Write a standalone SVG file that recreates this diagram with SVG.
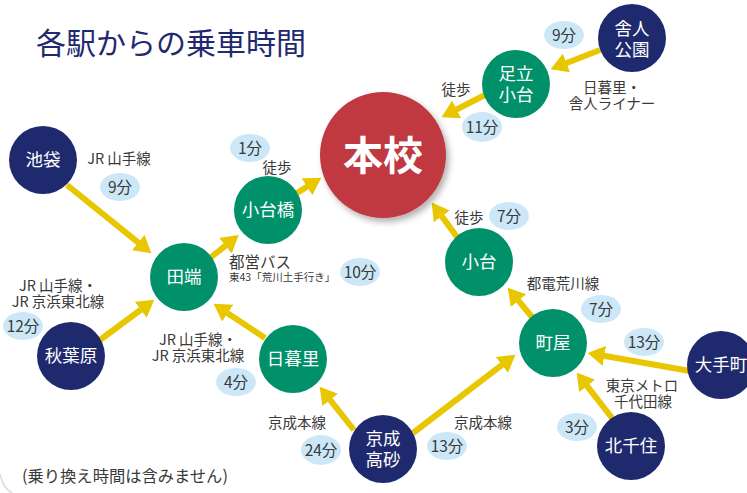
<svg xmlns="http://www.w3.org/2000/svg" width="747" height="493" viewBox="0 0 747 493">
<defs>
<style>
.ttl{font-family:"Noto Sans CJK JP","Noto Sans",sans-serif;font-size:30px;fill:#1f2a6e;}
.nt{font-family:"Noto Sans CJK JP","Noto Sans",sans-serif;font-size:17.5px;fill:#ffffff;text-anchor:middle;}
.lb{font-family:"Noto Sans CJK JP","Noto Sans",sans-serif;font-size:14.5px;fill:#3a3a3a;text-anchor:middle;}
.pt{font-family:"Noto Sans CJK JP","Noto Sans",sans-serif;font-size:15.5px;fill:#3a3a3a;text-anchor:middle;}
.pill{fill:#cce8f8;}
.navy{fill:#1f2a6e;}
.green{fill:#00916b;}
.conn line{stroke:#e8c600;stroke-width:6;marker-end:url(#ah);}
</style>
<marker id="ah" markerUnits="userSpaceOnUse" markerWidth="17" markerHeight="20" viewBox="0 0 17 20" refX="0.5" refY="10" orient="auto">
<path d="M0,0 L17,10 L0,20 z" fill="#e8c600"/>
</marker>
<filter id="sh" x="-20%" y="-20%" width="150%" height="150%">
<feDropShadow dx="3" dy="4" stdDeviation="3" flood-color="#000" flood-opacity="0.3"/>
</filter>
</defs>
<rect width="747" height="493" fill="#ffffff"/>
<path d="M0,474 Q3,488 12,493" fill="none" stroke="#dcdcdc" stroke-width="1.5"/>
<text class="ttl" x="36" y="54">各駅からの乗車時間</text>

<g id="connectors" class="conn">
<line x1="600" y1="50" x2="566" y2="63.2"/>
<line x1="485" y1="95" x2="456.2" y2="109.7"/>
<line x1="67" y1="185" x2="138.6" y2="242.9"/>
<line x1="100" y1="340" x2="141.1" y2="309.5"/>
<line x1="265" y1="338" x2="227.3" y2="312.9"/>
<line x1="210" y1="258" x2="225.8" y2="245.4"/>
<line x1="297" y1="193" x2="307.4" y2="186.5"/>
<line x1="354" y1="430" x2="329.9" y2="399.6"/>
<line x1="413" y1="433" x2="502.3" y2="364.7"/>
<line x1="457" y1="237" x2="441.5" y2="215.9"/>
<line x1="532" y1="317" x2="518.2" y2="300.3"/>
<line x1="690" y1="371" x2="603.8" y2="355.8"/>
<line x1="612" y1="418" x2="586.8" y2="385.6"/>
</g>

<g id="node-honkou">
<circle cx="383" cy="155" r="63" fill="#c0393f" filter="url(#sh)"/>
<text x="383" y="170" font-family="Noto Sans CJK JP,Noto Sans,sans-serif" font-size="40" font-weight="bold" fill="#ffffff" text-anchor="middle">本校</text>
</g>
<g id="node-toneri">
<circle class="navy" cx="632" cy="38" r="34"/>
<text class="nt" x="632" y="35">舎人<tspan x="632" dy="21">公園</tspan></text>
</g>
<g id="node-adachiodai">
<circle class="green" cx="516" cy="84" r="34"/>
<text class="nt" x="516" y="80">足立<tspan x="516" dy="21">小台</tspan></text>
</g>
<g id="node-ikebukuro">
<circle class="navy" cx="43" cy="160" r="34"/>
<text class="nt" x="43" y="166">池袋</text>
</g>
<g id="node-tabata">
<circle class="green" cx="184" cy="277" r="34"/>
<text class="nt" x="184" y="283">田端</text>
</g>
<g id="node-akihabara">
<circle class="navy" cx="71" cy="356" r="34"/>
<text class="nt" x="71" y="362">秋葉原</text>
</g>
<g id="node-odaibashi">
<circle class="green" cx="268" cy="210" r="34"/>
<text class="nt" x="268" y="216">小台橋</text>
</g>
<g id="node-nippori">
<circle class="green" cx="293" cy="359" r="34"/>
<text class="nt" x="293" y="365">日暮里</text>
</g>
<g id="node-keiseitakasago">
<circle class="navy" cx="383" cy="449" r="34"/>
<text class="nt" x="383" y="445">京成<tspan x="383" dy="21">高砂</tspan></text>
</g>
<g id="node-odai">
<circle class="green" cx="479" cy="262" r="34"/>
<text class="nt" x="479" y="268">小台</text>
</g>
<g id="node-machiya">
<circle class="green" cx="553" cy="343" r="34"/>
<text class="nt" x="553" y="349">町屋</text>
</g>
<g id="node-otemachi">
<circle class="navy" cx="721" cy="365" r="34"/>
<text class="nt" x="721" y="371">大手町</text>
</g>
<g id="node-kitasenju">
<circle class="navy" cx="631" cy="446" r="34"/>
<text class="nt" x="631" y="452">北千住</text>
</g>

<g id="labels">
<ellipse class="pill" cx="564" cy="35" rx="20" ry="14"/>
<text class="pt" x="564" y="40.5">9分</text>
<text class="lb" x="612" y="93">日暮里・<tspan x="612" dy="15.5">舎人ライナー</tspan></text>
<text class="lb" x="456" y="95">徒歩</text>
<ellipse class="pill" cx="482" cy="127" rx="20" ry="15"/>
<text class="pt" x="482" y="132.5">11分</text>

<text class="lb" x="119" y="164">JR 山手線</text>
<ellipse class="pill" cx="120" cy="187" rx="20" ry="14"/>
<text class="pt" x="120" y="192.5">9分</text>

<text class="lb" x="58" y="291">JR 山手線・<tspan x="58" dy="15.5">JR 京浜東北線</tspan></text>
<ellipse class="pill" cx="23" cy="326" rx="20" ry="14"/>
<text class="pt" x="23" y="331.5">12分</text>

<text class="lb" x="198" y="345">JR 山手線・<tspan x="198" dy="15.5">JR 京浜東北線</tspan></text>
<ellipse class="pill" cx="236" cy="382" rx="20" ry="14"/>
<text class="pt" x="236" y="387.5">4分</text>

<ellipse class="pill" cx="250" cy="148" rx="20" ry="14"/>
<text class="pt" x="250" y="153.5">1分</text>
<text class="lb" x="277" y="173">徒歩</text>

<text x="229" y="268" font-family="Noto Sans CJK JP,Noto Sans,sans-serif" font-size="15.5" fill="#3a3a3a">都営バス<tspan x="229" dy="12.5" font-size="10.5">東43「荒川土手行き」</tspan></text>
<ellipse class="pill" cx="360" cy="272" rx="20" ry="14"/>
<text class="pt" x="360" y="277.5">10分</text>

<text class="lb" x="297" y="428">京成本線</text>
<ellipse class="pill" cx="321" cy="450" rx="20" ry="15"/>
<text class="pt" x="321" y="455.5">24分</text>

<text class="lb" x="483" y="428">京成本線</text>
<ellipse class="pill" cx="447" cy="446" rx="20" ry="14"/>
<text class="pt" x="447" y="451.5">13分</text>

<text class="lb" x="469" y="223">徒歩</text>
<ellipse class="pill" cx="509" cy="216" rx="20" ry="14"/>
<text class="pt" x="509" y="221.5">7分</text>

<text class="lb" x="563" y="289">都電荒川線</text>
<ellipse class="pill" cx="601" cy="309" rx="20" ry="14"/>
<text class="pt" x="601" y="314.5">7分</text>

<ellipse class="pill" cx="644" cy="342" rx="20" ry="14"/>
<text class="pt" x="644" y="347.5">13分</text>

<text class="lb" x="642" y="391">東京メトロ<tspan x="643" dy="16">千代田線</tspan></text>
<ellipse class="pill" cx="577" cy="427" rx="20" ry="14"/>
<text class="pt" x="577" y="432.5">3分</text>
</g>

<text x="22" y="482" font-family="Noto Sans CJK JP,Noto Sans,sans-serif" font-size="16.3" fill="#3a3a3a">(乗り換え時間は含みません)</text>
</svg>
